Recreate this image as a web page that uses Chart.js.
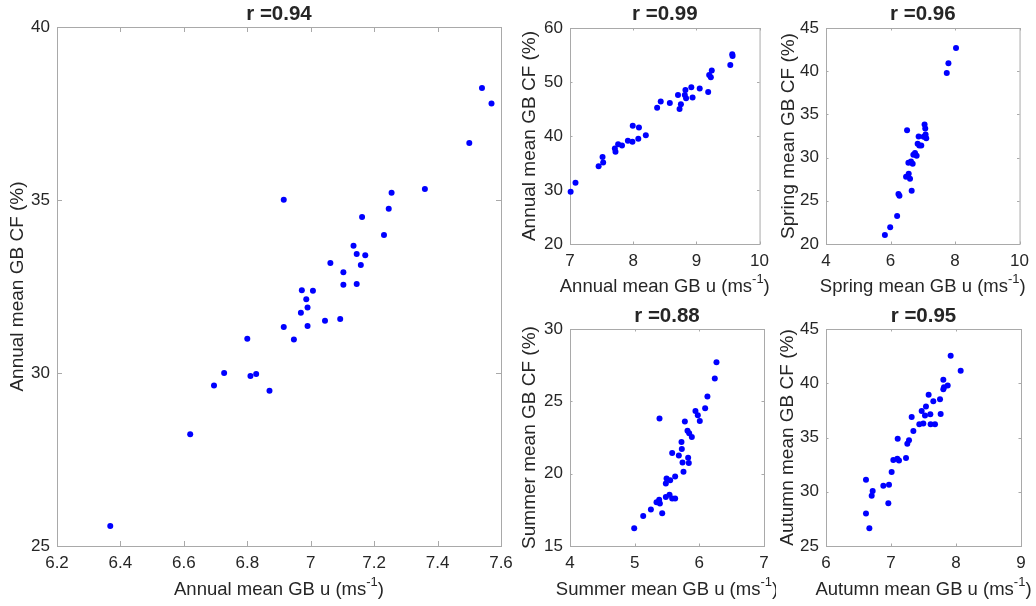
<!DOCTYPE html>
<html lang="en">
<head>
<meta charset="UTF-8">
<title>GB wind speed vs capacity factor</title>
<script src="https://cdn.jsdelivr.net/npm/chart.js"></script>
<style>
  html, body { margin: 0; padding: 0; background: #fff; }
  body { width: 1036px; height: 606px; position: relative; overflow: hidden; }
  canvas { position: absolute; }
</style>
</head>
<body>
<canvas id="main" width="520" height="606" style="left:0;top:0"></canvas>
<canvas id="annual" width="256" height="300" style="left:520px;top:0"></canvas>
<canvas id="spring" width="260" height="300" style="left:776px;top:0"></canvas>
<canvas id="summer" width="256" height="306" style="left:520px;top:300px"></canvas>
<canvas id="autumn" width="260" height="306" style="left:776px;top:300px"></canvas>

<script>
// annual means (large panel)
const mainU = [7.54, 7.57, 7.50, 6.915, 7.36, 7.255, 7.246, 7.162, 7.231, 7.135, 7.145, 7.172,
  7.062, 7.158, 7.103, 7.103, 7.145, 6.972, 7.007, 6.986, 6.99, 6.969, 7.045, 7.093, 6.915,
  6.99, 6.80, 6.947, 6.727, 6.81, 6.828, 6.695, 6.87, 6.62, 6.368];
const mainCF = [38.24, 37.79, 36.65, 35.01, 35.32, 35.21, 34.75, 34.51, 33.99, 33.68, 33.44, 33.40,
  33.18, 33.12, 32.91, 32.55, 32.57, 32.39, 32.38, 32.13, 31.89, 31.74, 31.51, 31.56, 31.33,
  31.36, 30.99, 30.97, 30.00, 29.91, 29.97, 29.64, 29.49, 28.23, 25.58];

const annualU = [7.01, 7.087, 7.453, 7.515, 7.525, 7.71, 7.72, 7.762, 7.823, 7.916, 7.988, 7.993,
  8.091, 8.081, 8.2, 8.379, 8.436, 8.58, 8.709, 8.734, 8.755, 8.817, 8.827, 8.837, 8.92, 8.94,
  9.053, 9.187, 9.203, 9.229, 9.244, 9.537, 9.568, 9.573];
const annualCF = [29.68, 31.34, 34.42, 36.09, 35.1, 37.69, 37.07, 38.49, 38.24, 39.1, 38.92, 41.88,
  41.57, 39.48, 40.15, 45.21, 46.38, 46.13, 47.61, 45.02, 45.89, 47.61, 48.54, 47.0, 49.03, 47.12,
  48.78, 48.17, 51.31, 50.88, 52.11, 53.16, 55.13, 54.82];

const springU = [5.826, 5.99, 6.205, 6.246, 6.277, 6.513, 6.482, 6.564, 6.605, 6.656, 6.554, 6.636,
  6.687, 6.708, 6.759, 6.81, 6.841, 6.872, 6.892, 6.954, 7.026, 7.056, 7.077, 7.087, 7.108,
  7.744, 7.795, 8.031];
const springCF = [21.04, 21.93, 23.24, 25.78, 25.59, 33.17, 27.78, 28.13, 27.55, 26.16, 29.4, 29.55,
  29.28, 30.32, 30.52, 30.21, 31.59, 32.44, 31.4, 31.4, 32.4, 33.83, 33.37, 32.67, 32.25,
  39.8, 40.92, 42.69];

const summerU = [4.993, 5.132, 5.251, 5.338, 5.379, 5.39, 5.426, 5.384, 5.482, 5.539, 5.58, 5.626,
  5.482, 5.493, 5.549, 5.58, 5.626, 5.683, 5.724, 5.729, 5.74, 5.755, 5.776, 5.817, 5.827, 5.837,
  5.843, 5.884, 5.94, 5.976, 6.007, 6.09, 6.125, 6.239, 6.265];
const summerCF = [16.23, 17.08, 17.52, 18.03, 18.19, 17.94, 17.27, 23.81, 18.38, 18.54, 18.28, 18.28,
  19.32, 19.67, 19.55, 21.43, 19.81, 21.26, 22.19, 21.70, 20.78, 20.13, 23.6, 22.97, 21.1, 20.73,
  22.79, 22.54, 24.34, 24.04, 23.64, 24.52, 25.33, 26.58, 27.71];

const autumnU = [6.615, 6.615, 6.667, 6.703, 6.718, 6.882, 6.969, 6.959, 7.01, 7.036, 7.097, 7.123,
  7.103, 7.231, 7.251, 7.277, 7.318, 7.344, 7.436, 7.497, 7.472, 7.523, 7.538, 7.579, 7.605, 7.61,
  7.677, 7.651, 7.754, 7.764, 7.805, 7.805, 7.815, 7.872, 7.918, 8.072];
const autumnCF = [31.1, 27.99, 26.63, 29.62, 30.08, 30.55, 30.64, 28.94, 31.81, 32.92, 33.04, 32.89,
  34.89, 33.1, 34.43, 34.74, 36.9, 35.6, 36.22, 36.28, 37.45, 37.02, 37.85, 38.93, 37.14, 36.22,
  36.22, 38.34, 38.53, 37.17, 40.32, 39.45, 39.64, 39.79, 42.53, 41.15];

// tick values per panel
const mainXTicks = [6.2, 6.4, 6.6, 6.8, 7, 7.2, 7.4, 7.6];
const mainYTicks = [25, 30, 35, 40];
const annualXTicks = [7, 8, 9, 10];
const annualYTicks = [20, 30, 40, 50, 60];
const springXTicks = [4, 6, 8, 10];
const springYTicks = [20, 25, 30, 35, 40, 45];
const summerXTicks = [4, 5, 6, 7];
const summerYTicks = [15, 20, 25, 30];
const autumnXTicks = [6, 7, 8, 9];
const autumnYTicks = [25, 30, 35, 40, 45];

const FONT = "'Liberation Sans', Arial, Helvetica, sans-serif";
const INK = '#262626';
const BOX = '#a9a9a9';

// axes box with inward ticks, bold title, axis labels (x label has a superscript)
const frame = {
  id: 'frame',
  beforeDatasetsDraw(chart, args, o) {
    const { ctx, chartArea: a, scales: { x, y } } = chart;
    ctx.save();
    ctx.strokeStyle = BOX;
    ctx.lineWidth = 1;
    ctx.strokeRect(a.left + 0.5, a.top + 0.5, a.right - a.left, a.bottom - a.top);
    ctx.beginPath();
    x.ticks.forEach(t => {
      const px = Math.round(x.getPixelForValue(t.value)) + 0.5;
      ctx.moveTo(px, a.bottom); ctx.lineTo(px, a.bottom - o.tick);
      ctx.moveTo(px, a.top); ctx.lineTo(px, a.top + o.tick);
    });
    y.ticks.forEach(t => {
      const py = Math.round(y.getPixelForValue(t.value)) + 0.5;
      ctx.moveTo(a.left, py); ctx.lineTo(a.left + o.tick, py);
      ctx.moveTo(a.right, py); ctx.lineTo(a.right - o.tick, py);
    });
    ctx.stroke();
    ctx.restore();
  },
  afterDraw(chart, args, o) {
    const { ctx, chartArea: a } = chart;
    const cx = (a.left + a.right) / 2;
    const cy = (a.top + a.bottom) / 2;
    ctx.save();
    ctx.fillStyle = INK;
    ctx.textBaseline = 'middle';

    ctx.font = 'bold 20.5px ' + FONT;
    ctx.textAlign = 'center';
    ctx.fillText(o.title, cx, o.titleY);

    // x label: base text, raised "-1", closing bracket
    const [head, sup, tail] = o.xLabel;
    const base = '18.5px ' + FONT, small = '13px ' + FONT;
    ctx.font = base;
    const wHead = ctx.measureText(head).width;
    const wTail = ctx.measureText(tail).width;
    ctx.font = small;
    const wSup = ctx.measureText(sup).width;
    let xs = cx - (wHead + wSup + wTail) / 2;
    ctx.textAlign = 'left';
    ctx.font = base;
    ctx.fillText(head, xs, o.xLabelY);
    xs += wHead;
    ctx.font = small;
    ctx.fillText(sup, xs, o.xLabelY - 8);
    xs += wSup;
    ctx.font = base;
    ctx.fillText(tail, xs, o.xLabelY);

    ctx.translate(o.yLabelX, cy);
    ctx.rotate(-Math.PI / 2);
    ctx.textAlign = 'center';
    ctx.font = '19px ' + FONT;
    ctx.fillText(o.yLabel, 0, 0);
    ctx.restore();
  }
};

function tickText(v) {
  return String(Math.round(v * 10) / 10);
}

function makePanel(id, p) {
  const canvas = document.getElementById(id);
  const W = canvas.width, H = canvas.height;
  const tickFont = { family: FONT, size: 17 };
  return new Chart(canvas, {
    type: 'scatter',
    data: {
      datasets: [{
        data: p.u.map((v, i) => ({ x: v, y: p.cf[i] })),
        pointRadius: 3,
        pointHoverRadius: 3,
        pointBackgroundColor: '#0000ff',
        pointBorderWidth: 0,
        clip: false
      }]
    },
    options: {
      responsive: false,
      animation: false,
      events: [],
      layout: { padding: { top: p.area.t, right: W - p.area.r, left: 0, bottom: 0 } },
      plugins: {
        legend: { display: false },
        tooltip: { enabled: false },
        frame: {
          title: p.title, titleY: p.titleY,
          xLabel: p.xLabel, xLabelY: p.xLabelY,
          yLabel: p.yLabel, yLabelX: p.yLabelX,
          tick: p.tick
        }
      },
      scales: {
        x: {
          type: 'linear',
          min: p.xTicks[0],
          max: p.xTicks[p.xTicks.length - 1],
          afterBuildTicks: s => { s.ticks = p.xTicks.map(v => ({ value: v })); },
          afterFit: s => { s.height = H - p.area.b; },
          grid: { display: false, drawTicks: false },
          border: { display: false },
          ticks: { font: tickFont, color: INK, padding: 7, autoSkip: false, maxRotation: 0, callback: tickText }
        },
        y: {
          type: 'linear',
          min: p.yTicks[0],
          max: p.yTicks[p.yTicks.length - 1],
          afterBuildTicks: s => { s.ticks = p.yTicks.map(v => ({ value: v })); },
          afterFit: s => { s.width = p.area.l; },
          grid: { display: false, drawTicks: false },
          border: { display: false },
          ticks: { font: tickFont, color: INK, padding: 7, autoSkip: false, callback: tickText }
        }
      }
    },
    plugins: [frame]
  });
}

makePanel('main', {
  u: mainU, cf: mainCF, xTicks: mainXTicks, yTicks: mainYTicks,
  area: { l: 57, t: 27, r: 501, b: 546 }, tick: 5,
  title: 'r =0.94', titleY: 14,
  xLabel: ['Annual mean GB u (ms', '-1', ')'], xLabelY: 590,
  yLabel: 'Annual mean GB CF (%)', yLabelX: 18
});

makePanel('annual', {
  u: annualU, cf: annualCF, xTicks: annualXTicks, yTicks: annualYTicks,
  area: { l: 50, t: 28, r: 244, b: 244 }, tick: 2.5,
  title: 'r =0.99', titleY: 14,
  xLabel: ['Annual mean GB u (ms', '-1', ')'], xLabelY: 287,
  yLabel: 'Annual mean GB CF (%)', yLabelX: 10
});

makePanel('spring', {
  u: springU, cf: springCF, xTicks: springXTicks, yTicks: springYTicks,
  area: { l: 50, t: 28, r: 245, b: 244 }, tick: 2.5,
  title: 'r =0.96', titleY: 14,
  xLabel: ['Spring mean GB u (ms', '-1', ')'], xLabelY: 287,
  yLabel: 'Spring mean GB CF (%)', yLabelX: 12.5
});

makePanel('summer', {
  u: summerU, cf: summerCF, xTicks: summerXTicks, yTicks: summerYTicks,
  area: { l: 50, t: 29, r: 244, b: 246 }, tick: 2.5,
  title: 'r =0.88', titleY: 16,
  xLabel: ['Summer mean GB u (ms', '-1', ')'], xLabelY: 290,
  yLabel: 'Summer mean GB CF (%)', yLabelX: 10
});

makePanel('autumn', {
  u: autumnU, cf: autumnCF, xTicks: autumnXTicks, yTicks: autumnYTicks,
  area: { l: 50, t: 29, r: 245, b: 246 }, tick: 2.5,
  title: 'r =0.95', titleY: 16,
  xLabel: ['Autumn mean GB u (ms', '-1', ')'], xLabelY: 290,
  yLabel: 'Autumn mean GB CF (%)', yLabelX: 12
});
</script>
</body>
</html>
